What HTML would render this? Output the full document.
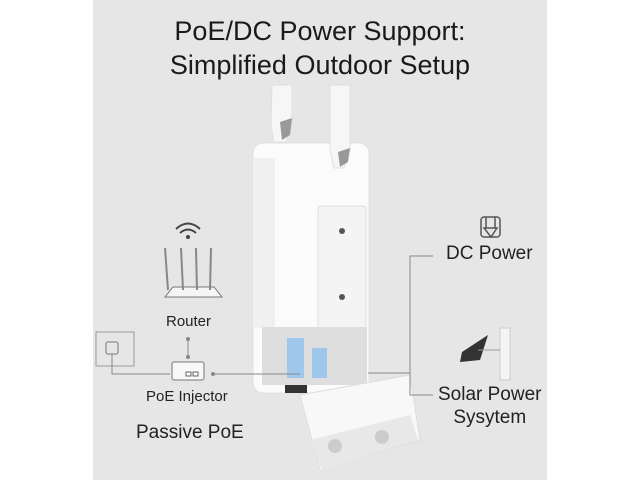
<!DOCTYPE html>
<html><head><style>
body{margin:0;width:640px;height:480px;background:#fff;position:relative;overflow:hidden;font-family:"Liberation Sans",sans-serif;color:#222}
.t{position:absolute;white-space:nowrap}
</style></head><body>
<div style="position:absolute;left:93px;top:0;width:454px;height:480px;background:#e6e6e6"></div>
<svg width="640" height="480" style="position:absolute;left:0;top:0">
<!-- antennas -->
<path d="M272 85 L292 85 L292 125 L286 142 L274 142 L271 125Z" fill="#f6f6f6" stroke="#e0e0e0"/>
<path d="M280 122 L292 118 L290 135 L282 140Z" fill="#999"/>
<!-- body -->
<rect x="253" y="143" width="116" height="250" rx="10" fill="#fbfbfb" stroke="#e0e0e0"/>
<rect x="253" y="158" width="22" height="170" fill="#f0f0f0"/>
<path d="M330 85 L350 85 L350 150 L344 168 L334 168 L330 150Z" fill="#f6f6f6" stroke="#e0e0e0"/>
<path d="M338 152 L350 148 L348 162 L340 167Z" fill="#999"/>
<rect x="318" y="206" width="48" height="125" rx="3" fill="#f4f4f4" stroke="#ddd"/>
<circle cx="342" cy="231" r="3" fill="#555"/><circle cx="342" cy="297" r="3" fill="#555"/>
<rect x="262" y="327" width="105" height="58" fill="#dedede"/>
<rect x="287" y="338" width="17" height="40" fill="#8fc0ee" opacity="0.8"/>
<rect x="312" y="348" width="15" height="30" fill="#8fc0ee" opacity="0.8"/>
<rect x="285" y="385" width="22" height="8" fill="#333"/>
<!-- cover -->
<path d="M300 395 L410 375 L420 440 L320 470 Z" fill="#f8f8f8" stroke="#ddd"/>
<path d="M310 440 L410 415 L418 440 L322 470Z" fill="#e8e8e8"/>
<circle cx="335" cy="446" r="7" fill="#ccc"/><circle cx="382" cy="437" r="7" fill="#ccc"/>
<!-- left diagram -->
<rect x="96" y="332" width="38" height="34" fill="none" stroke="#999"/>
<rect x="106" y="342" width="12" height="12" rx="2" fill="none" stroke="#777"/>
<path d="M112 354 V374 H170" fill="none" stroke="#888"/>
<rect x="172" y="362" width="32" height="18" rx="2" fill="#f8f8f8" stroke="#777"/>
<rect x="186" y="372" width="5" height="4" fill="none" stroke="#666"/><rect x="193" y="372" width="5" height="4" fill="none" stroke="#666"/>
<line x1="188" y1="340" x2="188" y2="356" stroke="#888"/>
<circle cx="188" cy="339" r="2" fill="#888"/><circle cx="188" cy="357" r="2" fill="#888"/>
<line x1="214" y1="374" x2="300" y2="374" stroke="#888"/><circle cx="213" cy="374" r="2" fill="#888"/>
<!-- router -->
<path d="M165 297 L222 297 L214 287 L173 287Z" fill="#f5f5f5" stroke="#777"/>
<g stroke="#888" stroke-width="2"><line x1="165" y1="248" x2="168" y2="290"/><line x1="181" y1="248" x2="183" y2="290"/><line x1="196" y1="248" x2="197" y2="290"/><line x1="211" y1="248" x2="210" y2="290"/></g>
<path d="M176 229 Q188 218 200 229" fill="none" stroke="#444" stroke-width="2"/>
<path d="M180 233 Q188 226 196 233" fill="none" stroke="#444" stroke-width="2"/>
<circle cx="188" cy="237" r="2" fill="#444"/>
<!-- right connectors -->
<path d="M433 256 H410 V395 H433" fill="none" stroke="#888"/>
<line x1="368" y1="373" x2="410" y2="373" stroke="#888"/>
<rect x="481" y="217" width="19" height="20" rx="3" fill="none" stroke="#555" stroke-width="1.5"/>
<path d="M486 217 V228 M495 217 V228 M484 228 H497 L491 237Z" stroke="#555" fill="none" stroke-width="1.5"/>
<path d="M462 352 L488 335 L480 360 L460 362Z" fill="#333"/>
<rect x="500" y="328" width="10" height="52" fill="#f4f4f4" stroke="#ccc"/>
<line x1="478" y1="350" x2="500" y2="350" stroke="#999"/>
</svg>
<div class="t" style="left:93px;width:454px;top:14px;text-align:center;font-size:27px;line-height:34px;color:#1a1a1a">PoE/DC Power Support:<br>Simplified Outdoor Setup</div>
<div class="t" style="left:166px;top:313px;font-size:15px">Router</div>
<div class="t" style="left:146px;top:388px;font-size:15px">PoE Injector</div>
<div class="t" style="left:136px;top:422px;font-size:19px">Passive PoE</div>
<div class="t" style="left:446px;top:243px;font-size:19px">DC Power</div>
<div class="t" style="left:438px;top:383px;font-size:19px;text-align:center;line-height:23px">Solar Power<br>Sysytem</div>
</body></html>
